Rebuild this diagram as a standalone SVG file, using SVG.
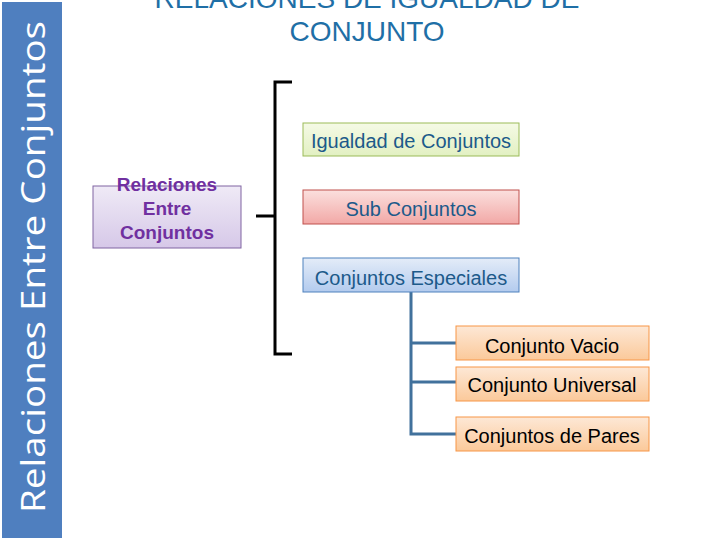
<svg xmlns="http://www.w3.org/2000/svg" width="720" height="540" viewBox="0 0 720 540">
<defs>
<linearGradient id="gP" x1="0" y1="0" x2="0" y2="1"><stop offset="0" stop-color="#efeaf6"/><stop offset="1" stop-color="#d6c8e8"/></linearGradient>
<linearGradient id="gG" x1="0" y1="0" x2="0" y2="1"><stop offset="0" stop-color="#f5fae6"/><stop offset="1" stop-color="#e2f0c2"/></linearGradient>
<linearGradient id="gR" x1="0" y1="0" x2="0" y2="1"><stop offset="0" stop-color="#fbe0de"/><stop offset="1" stop-color="#f2a8a6"/></linearGradient>
<linearGradient id="gB" x1="0" y1="0" x2="0" y2="1"><stop offset="0" stop-color="#e4ecf8"/><stop offset="1" stop-color="#b3cbee"/></linearGradient>
<linearGradient id="gO" x1="0" y1="0" x2="0" y2="1"><stop offset="0" stop-color="#fde8d6"/><stop offset="1" stop-color="#fbc99a"/></linearGradient>
</defs>
<style>
.t{font-family:"Liberation Sans",Arial,sans-serif;font-size:20px;text-anchor:middle}
.b{fill:#1c5a8a}
.k{fill:#000}
.p{font-weight:bold;fill:#7030a0;font-size:19px}
.br{fill:none;stroke:#000;stroke-width:3}
.cn{fill:none;stroke:#41719c;stroke-width:3}
</style>
<rect x="0" y="0" width="720" height="540" fill="#fff"/>
<g id="sidebar">
<rect x="2" y="2" width="60" height="536" fill="#4f7fbf"/>
<text transform="translate(45,267) rotate(-90)" style="font-family:'Open Sans','Noto Sans',sans-serif;font-size:33px;text-anchor:middle;fill:#fff" textLength="492" lengthAdjust="spacingAndGlyphs">Relaciones Entre Conjuntos</text>
</g>
<g id="title">
<text class="t" x="367" y="8" style="font-size:28px;fill:#1f6fa6">RELACIONES DE IGUALDAD DE</text>
<text class="t" x="367" y="41" style="font-size:28px;fill:#1f6fa6">CONJUNTO</text>
</g>
<g id="connectors">
<path class="br" d="M256,216 H275 M292,82 H275 V354 H292"/>
<path class="cn" d="M411,292 V434 H456 M411,343 H456 M411,382 H456"/>
</g>
<g id="relaciones">
<rect x="93" y="186" width="148" height="62" fill="url(#gP)" stroke="#8064a2" stroke-width="1"/>
<text class="t p" x="167" y="191">Relaciones</text>
<text class="t p" x="167" y="215">Entre</text>
<text class="t p" x="167" y="239">Conjuntos</text>
</g>
<g id="igualdad">
<rect x="303" y="123" width="216" height="33" fill="url(#gG)" stroke="#9bbb59"/>
<text class="t b" x="411" y="148">Igualdad de Conjuntos</text>
</g>
<g id="sub">
<rect x="303" y="190" width="216" height="34" fill="url(#gR)" stroke="#c0504d"/>
<text class="t b" x="411" y="216">Sub Conjuntos</text>
</g>
<g id="especiales">
<rect x="303" y="258" width="216" height="34" fill="url(#gB)" stroke="#4f81bd"/>
<text class="t b" x="411" y="285">Conjuntos Especiales</text>
</g>
<g id="vacio">
<rect x="456" y="326" width="193" height="34" fill="url(#gO)" stroke="#f79646"/>
<text class="t k" x="552" y="353">Conjunto Vacio</text>
</g>
<g id="universal">
<rect x="456" y="367" width="193" height="34" fill="url(#gO)" stroke="#f79646"/>
<text class="t k" x="552" y="392">Conjunto Universal</text>
</g>
<g id="pares">
<rect x="456" y="417" width="193" height="34" fill="url(#gO)" stroke="#f79646"/>
<text class="t k" x="552" y="443">Conjuntos de Pares</text>
</g>
</svg>
